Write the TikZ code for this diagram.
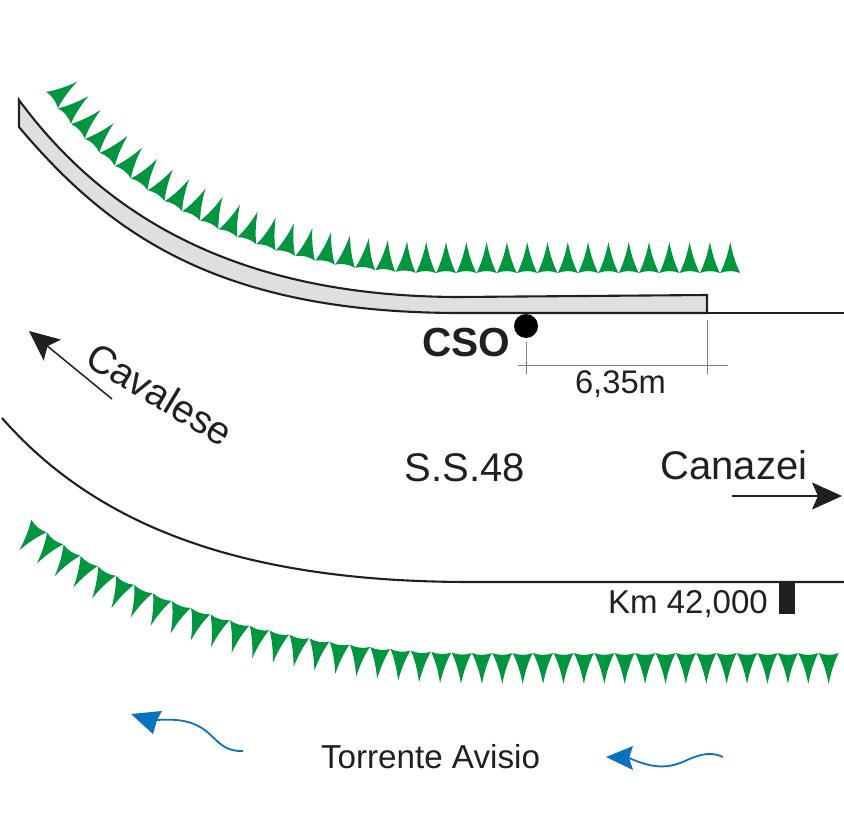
\documentclass[tikz,border=0pt]{standalone}
\usepackage{fontspec}
\setmainfont{Liberation Sans}
\usetikzlibrary{arrows.meta,decorations.markings}
\definecolor{treegreen}{HTML}{009640}
\definecolor{riverblue}{HTML}{0A72BE}
\definecolor{inkblack}{HTML}{231F20}
\definecolor{walkgrey}{HTML}{DEDFDE}
\newcommand{\treemark}[1]{\fill[treegreen] (-10,0) .. controls (-6,#1*8) and (-2.5,#1*18) .. (0,#1*31)
  .. controls (2.5,#1*18) and (6,#1*8) .. (10,0) .. controls (4,#1*2.5) and (-4,#1*2.5) .. cycle;}
\begin{document}
\begin{tikzpicture}[x=1pt,y=-1pt,
  roadline/.style={draw=inkblack,line width=2.1pt},
  dimline/.style={draw=black!50,line width=.8pt},
  label/.style={text=inkblack,inner sep=0pt},
  bigarrow/.style={-{Stealth[length=30pt,width=27pt,inset=6pt]},inkblack,line width=1.5pt},
  river/.style={draw=riverblue,line width=1.8pt}]
  \useasboundingbox (0,0) rectangle (844,826);
  % trees
  \path[postaction={decorate,decoration={markings,
      mark=between positions 0 and 1 step 20.3pt with {\treemark{-1}}}}]
    (52,100) .. controls (110,180) and (240,272) .. (430,273) -- (736,273);
  \path[postaction={decorate,decoration={markings,
      mark=between positions 0 and 1 step 20.4pt with {\treemark{1}}}}]
    (39,526) .. controls (130,600) and (280,652) .. (480,653) -- (836,653);
  % pavement and road
  \draw[roadline,fill=walkgrey] (19,100) .. controls (100,210) and (230,297) .. (460,297)
    -- (707,295) -- (707,313) -- (460,313) .. controls (220,313) and (110,235) .. (19,127) -- cycle;
  \draw[roadline] (707,313) -- (844,313);
  \draw[roadline] (2,418) .. controls (100,530) and (250,582) .. (470,582) -- (844,582);
  \node[circle,fill=black,inner sep=0pt,minimum size=24pt] (cso) at (526,326) {};
  \node[label,font=\fontsize{40.6}{41}\selectfont\bfseries] (csotext) at (466,343) {CSO};
  % measure
  \coordinate (dimA) at (526,342);
  \coordinate (dimB) at (526,374);
  \coordinate (dimC) at (707,320);
  \coordinate (dimD) at (707,374);
  \coordinate (dimE) at (518,365);
  \coordinate (dimF) at (728,365);
  \draw[dimline] (dimA) -- (dimB);
  \draw[dimline] (dimC) -- (dimD);
  \draw[dimline] (dimE) -- (dimF);
  \node[label,font=\fontsize{32.7}{33}\selectfont] (dist) at (620.5,384) {6,35m};
  % names
  \node[label,font=\fontsize{40}{40}\selectfont] (road) at (465,468) {S.S.48};
  \node[label,font=\fontsize{40}{40}\selectfont] (canazei) at (734,465) {Canazei};
  \node[label,font=\fontsize{39}{40}\selectfont,rotate=-31] (cavalese) at (160,394) {Cavalese};
  \node[label,font=\fontsize{33}{33}\selectfont] (km) at (688,604) {Km 42,000};
  \node[fill=inkblack,inner sep=0pt,minimum width=16pt,minimum height=31pt] (kmpost) at (787,598.5) {};
  \node[label,font=\fontsize{33.2}{35}\selectfont] (river) at (430.5,757) {Torrente Avisio};
  % arrows
  \coordinate (cavTail) at (112,399);
  \coordinate (cavTip) at (29,331);
  \coordinate (canTail) at (732,496);
  \coordinate (canTip) at (842,496);
  \draw[bigarrow] (cavTail) -- (cavTip);
  \draw[bigarrow] (canTail) -- (canTip);
  % river flow
  \draw[river] (243,751) .. controls (220,752) and (215,735) .. (200,727)
    .. controls (188,720) and (175,719) .. (157,720);
  \fill[riverblue] (131,714) -- (162,711) -- (157,720) -- (153,734) -- cycle;
  \draw[river] (723,757) .. controls (712,752) and (702,753) .. (685,761)
    .. controls (665,770) and (650,767) .. (629,758);
  \fill[riverblue] (606,757) -- (633,746) -- (629,758) -- (633,770) -- cycle;
\end{tikzpicture}
\end{document}
